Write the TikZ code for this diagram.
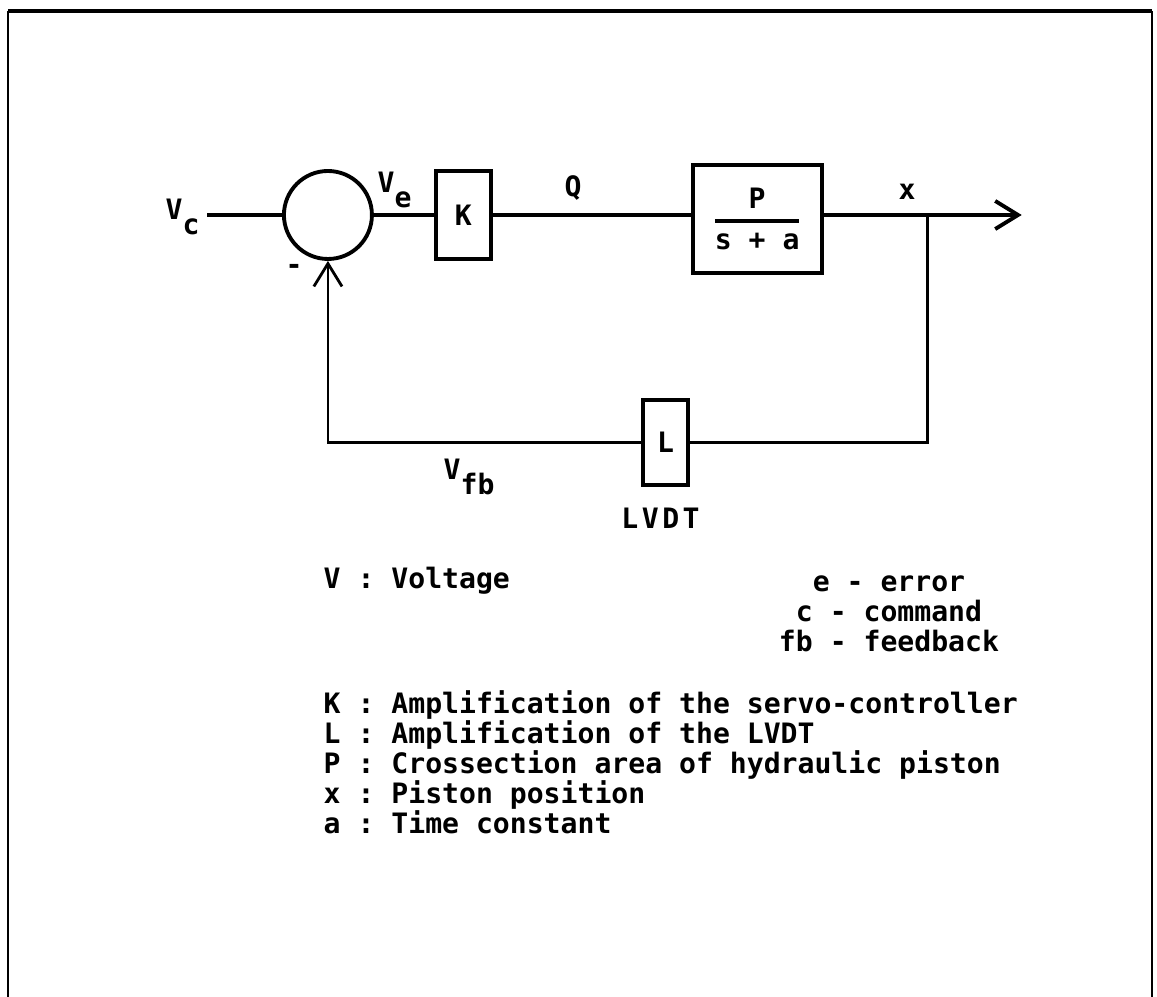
\documentclass[tikz,border=0pt]{standalone}
\usepackage{amsmath}
\usepackage{fontspec}
\setmainfont{DejaVu Sans Mono}
\usetikzlibrary{arrows.meta,positioning,calc}
\newcommand\lowsub[1]{\raisebox{-4pt}{#1}}

\begin{document}
\begin{tikzpicture}[auto, >={Straight Barb[length=6.5pt,width=8pt]}, font=\fontsize{8pt}{9.6pt}\selectfont\bfseries\frenchspacing]
        \tikzset{
            block/.style={draw, rectangle, line width=1.1pt, inner sep=0pt, align=center},
            sum/.style={draw, circle, minimum size=0.88cm, inner sep=0pt, line width=1.1pt},
            input/.style={coordinate},
            output/.style={coordinate},
            wire/.style={line width=1.1pt},
            fbwire/.style={line width=0.8pt},
            lbl/.style={inner sep=0pt, anchor=base west},
            legend/.style={inner sep=0pt, anchor=base west},
            sublegend/.style={inner sep=0pt, anchor=base}
        }
        \useasboundingbox (0,0) rectangle (11.57,-9.97);

        % Frame
        \draw [line width=0.6pt] (0.08,-9.97) -- (0.08,-0.11);
        \draw [line width=1.2pt] (0.08,-0.11) -- (11.52,-0.11);
        \draw [line width=0.6pt] (11.52,-0.11) -- (11.52,-9.97);

        % Nodes
        \node [input] (vc_in) at (2.07,-2.15) {};
        \node [sum, right=0.75cm of vc_in] (sum1) {};
        \node [block, minimum width=0.55cm, minimum height=0.88cm, right=0.60cm of sum1] (k) {K};
        \node [block, minimum width=1.29cm, minimum height=1.08cm, right=1.98cm of k, yshift=-0.04cm] (gp) {$\genfrac{}{}{1pt}{0}{\mbox{P}}{\mbox{s + a}}$};
        \node [output] (x_out) at ($(k.east) + (5.29,0)$) {};
        \node [block, minimum width=0.45cm, minimum height=0.85cm] (l) at (6.655,-4.425) {L};

        % Connections
        \draw [wire] (vc_in) -- (sum1);
        \draw [wire] (sum1) -- (k);
        \draw [wire] (k) -- (k -| gp.west);
        \draw [wire, ->] (gp.east |- x_out) -- (x_out);

        % Feedback
        \coordinate (split) at ($(gp.east |- x_out) + (1.04,0)$);
        \draw [fbwire] (split) |- (l.east);
        \draw [fbwire, ->] (l.west) -| (sum1.south);

        % Labels
        \node [lbl] (lbl_vc) at (1.65,-2.20) {V\lowsub{c}};
        \node [lbl] (lbl_ve) at (3.77,-1.93) {V\lowsub{e}};
        \node [lbl] (lbl_q) at (5.64,-1.97) {Q};
        \node [lbl] (lbl_x) at (8.98,-2.00) {x};
        \node [lbl] (lbl_minus) at (2.85,-2.75) {-};
        \node [lbl] (lbl_vfb) at (4.43,-4.80) {V\lowsub{fb}};
        \node [inner sep=0pt, below=0.2cm of l, xshift=-0.05cm] (lbl_lvdt) {L\kern1pt V\kern1pt D\kern1pt T};

        % Legend
        \node [legend] (leg_v) at (3.23,-5.89) {V : Voltage};
        \node [sublegend] (leg_e) at (8.89,-5.92) {e - error};
        \node [sublegend] (leg_c) at (8.89,-6.22) {c - command};
        \node [sublegend] (leg_fb) at (8.89,-6.52) {fb - feedback};
        \node [legend] (leg_k) at (3.23,-7.14) {K : Amplification of the servo-controller};
        \node [legend] (leg_l) at (3.23,-7.44) {L : Amplification of the LVDT};
        \node [legend] (leg_p) at (3.23,-7.74) {P : Crossection area of hydraulic piston};
        \node [legend] (leg_x) at (3.23,-8.04) {x : Piston position};
        \node [legend] (leg_a) at (3.23,-8.34) {a : Time constant};
    \end{tikzpicture}
\end{document}
